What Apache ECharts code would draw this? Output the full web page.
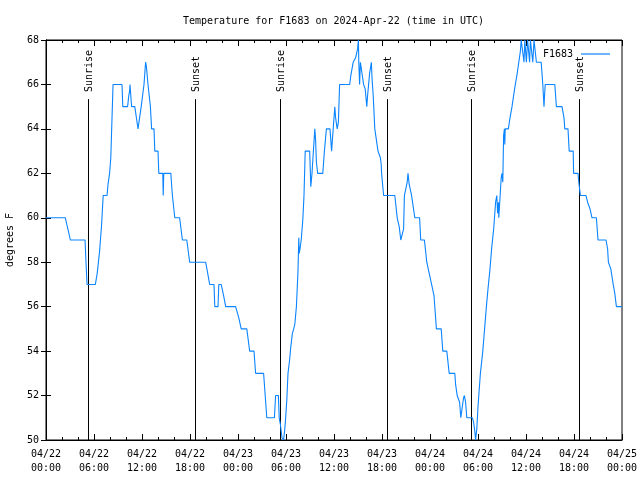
<!DOCTYPE html>
<html>
<head>
<meta charset="utf-8">
<script src="https://cdn.jsdelivr.net/npm/echarts@6/dist/echarts.min.js"></script>
<style>html,body{margin:0;padding:0;background:#fff;}#c{width:640px;height:480px;}</style>
</head>
<body>
<div id="c"></div>
<script>
// Hours since 2024-04-22 00:00 UTC
var timeHours = [0,2.42,2.6,2.8,3.04,4.88,5.0,5.13,6.17,6.4,6.7,6.95,7.15,7.63,7.75,7.95,8.1,8.38,9.5,9.6,10.2,10.35,10.45,10.5,10.7,11.1,11.3,11.5,11.6,11.9,12.25,12.45,12.55,12.75,13.05,13.2,13.5,13.6,14.0,14.1,14.6,14.65,14.72,15.6,15.8,16.1,16.7,17.05,17.6,17.96,19.96,20.46,21.0,21.1,21.5,21.6,21.9,22.2,22.46,23.7,24.1,24.4,25.1,25.46,26.0,26.2,27.2,27.4,27.6,28.55,28.7,29.05,29.15,29.3,29.5,29.7,29.85,29.96,30.1,30.25,30.45,30.6,30.8,30.96,31.1,31.3,31.5,31.6,31.65,31.75,31.9,32.1,32.25,32.4,32.96,33.1,33.25,33.4,33.6,33.7,33.8,33.96,34.6,34.8,35.05,35.5,35.7,35.9,36.1,36.2,36.4,36.55,36.7,37.96,38.1,38.4,38.7,38.95,39.05,39.1,39.2,39.3,39.5,39.7,39.9,40.1,40.2,40.45,40.67,40.75,40.9,41.1,41.5,41.8,41.9,41.95,42.2,43.6,43.75,43.9,44.15,44.35,44.6,44.7,44.8,45.0,45.15,45.25,45.4,45.7,45.9,46.1,46.7,46.84,47.3,47.45,47.6,47.9,48.2,48.5,48.6,48.8,49.4,49.6,50.1,50.4,51.1,51.2,51.4,51.7,51.85,52.0,52.2,52.3,52.45,52.6,53.3,53.45,53.6,53.7,53.85,54.0,54.1,54.3,54.6,54.8,55.05,55.25,55.5,55.7,55.96,56.2,56.35,56.45,56.55,56.6,56.9,57.0,57.1,57.2,57.3,57.35,57.4,57.8,58.0,58.25,58.45,58.67,58.9,59.1,59.3,59.4,59.6,59.75,59.85,60.05,60.2,60.35,60.45,60.55,60.75,60.85,61.0,61.2,61.3,61.9,62.1,62.25,62.32,62.4,63.6,63.8,64.5,64.75,64.85,65.25,65.4,65.9,65.95,66.5,66.6,66.8,67.5,67.7,68.0,68.25,68.8,69.0,70.0,70.2,70.3,70.6,70.9,71.1,71.3,72];
var tempF = [60,60,59.7,59.4,59,59,58,57,57,57.5,58.5,59.7,61,61,61.5,62,62.7,66,66,65,65,65.5,65.7,66,65,65,64.5,64,64,65,66,67,66.8,66,65,64,64,63,63,62,62,61,62,62,61,60,60,59,59,58,58,57,57,56,56,57,57,56.5,56,56,55.5,55,55,54,54,53,53,52,51,51,52,52,51,50.7,50.1,50,50.5,51,51.8,53,53.6,54.2,54.8,55,55.2,56,57.6,59.1,58.4,58.6,59,59.9,61,63,63,61.4,62,62,64,63.5,62.5,62,62,63,64,64,63,64,65,64.5,64,64.3,66,66,66.4,67,67.2,67.6,68,67,66,67,67,66,65.8,65,65.5,66.5,67,66.3,65.5,64,63,62.7,62.4,62,61,61,60.5,60,59.6,59,59,59.5,61,61,61.6,62,61.5,61,60.5,60,60,59,59,58.5,58,57.5,57,56.5,56,55,55,54,54,53,53,52.5,52,51.7,51,51.4,51.9,52,51.7,51,51,50.8,50.4,50,50.5,51.5,52,53,54,54.9,56,56.8,57.7,58.6,59.5,60.7,61,60.2,60.7,60,61.8,62,61.6,63.7,64,63.3,64,64,64.5,65,65.5,66,66.5,67,67.5,68,68,67,68,67,68,68,67,68,68,67,68,68,67,67,66,65,65.5,66,66,65,65,64.5,64,64,63,63,62,62,61.6,61,61,60.7,60.4,60,60,59,59,58.6,58,57.7,57,56.6,56,56];
var seriesName = 'F1683';
var sunTimes = [5.25, 18.63, 29.3, 42.63, 53.18, 66.63];
var sunLabels = ['Sunrise', 'Sunset', 'Sunrise', 'Sunset', 'Sunrise', 'Sunset'];
var xTickLabels = ['04/22\n00:00','04/22\n06:00','04/22\n12:00','04/22\n18:00','04/23\n00:00','04/23\n06:00','04/23\n12:00','04/23\n18:00','04/24\n00:00','04/24\n06:00','04/24\n12:00','04/24\n18:00','04/25\n00:00'];
var titleText = 'Temperature for F1683 on 2024-Apr-22 (time in UTC)';
var yName = 'degrees F';

var FONT = 'DejaVu Sans Mono';
var lineData = timeHours.map(function (t, i) { return [t, tempF[i]]; });
var sunData = sunTimes.map(function (t, i) { return [t, i]; });
var SUN_TOP = 65.34;

var chart = echarts.init(document.getElementById('c'), null, {renderer: 'canvas'});
var xBase = {
  type: 'value', min: 0, max: 72, interval: 6,
  axisLine: {show: true, lineStyle: {color: '#000', width: 1}},
  axisTick: {show: true, inside: true, length: 6, lineStyle: {color: '#000'}},
  minorTick: {show: true, splitNumber: 3, length: 3, lineStyle: {color: '#000'}},
  splitLine: {show: false}
};
var yBase = {
  type: 'value', min: 50, max: 68, interval: 2,
  axisLine: {show: true, lineStyle: {color: '#000', width: 1}},
  axisTick: {show: true, inside: true, length: 5, lineStyle: {color: '#000'}},
  splitLine: {show: false}
};
chart.setOption({
  animation: false,
  backgroundColor: '#fff',
  title: {
    text: titleText, left: 178, top: 11,
    textStyle: {fontFamily: FONT, fontSize: 10, fontWeight: 'normal', color: '#000'}
  },
  legend: {
    data: [seriesName], right: 25, top: 44, align: 'right',
    icon: 'rect', itemWidth: 29, itemHeight: 1.2,
    textStyle: {fontFamily: FONT, fontSize: 10, color: '#000', padding: [0, 3, 0, 0]}
  },
  grid: {left: 46, right: 18, top: 40, bottom: 40, show: true, borderColor: '#000', borderWidth: 1,
    containLabel: false, outerBoundsMode: 'none'},
  xAxis: [
    Object.assign({}, xBase, {position: 'bottom', axisLabel: {
      color: '#000', fontFamily: FONT, fontSize: 10, lineHeight: 14, margin: 7,
      formatter: function (v) { return xTickLabels[Math.round(v / 6)]; }
    }}),
    Object.assign({}, xBase, {position: 'top', axisLabel: {show: false}})
  ],
  yAxis: [
    Object.assign({}, yBase, {position: 'left', name: yName, nameLocation: 'middle', nameGap: 31, nameRotate: 90,
      nameTextStyle: {fontFamily: FONT, fontSize: 10, color: '#000'},
      axisLabel: {color: '#000', fontFamily: FONT, fontSize: 10, margin: 7}}),
    Object.assign({}, yBase, {position: 'right', axisLabel: {show: false}})
  ],
  series: [
    {
      name: seriesName, type: 'line', data: lineData, xAxisIndex: 0, yAxisIndex: 0,
      showSymbol: false, symbol: 'none', clip: true,
      lineStyle: {color: '#0a84ff', width: 1.1}, itemStyle: {color: '#0a84ff'}
    },
    {
      name: 'sun', type: 'custom', data: sunData, xAxisIndex: 0, yAxisIndex: 0, silent: true, clip: false,
      renderItem: function (params, api) {
        var t = api.value(0);
        var p0 = api.coord([t, 50]);
        var p1 = api.coord([t, SUN_TOP]);
        var x = Math.round(p0[0]) + 0.5;
        return {
          type: 'group',
          children: [
            {type: 'line', shape: {x1: x, y1: p0[1], x2: x, y2: p1[1]}, style: {stroke: '#000', lineWidth: 1}},
            {type: 'text', x: x + 1, y: p1[1] - 7, rotation: Math.PI / 2,
              style: {text: sunLabels[api.value(1)], textAlign: 'left', textVerticalAlign: 'middle', font: '10px ' + FONT, fill: '#000'}}
          ]
        };
      }
    }
  ]
});
</script>
</body>
</html>
